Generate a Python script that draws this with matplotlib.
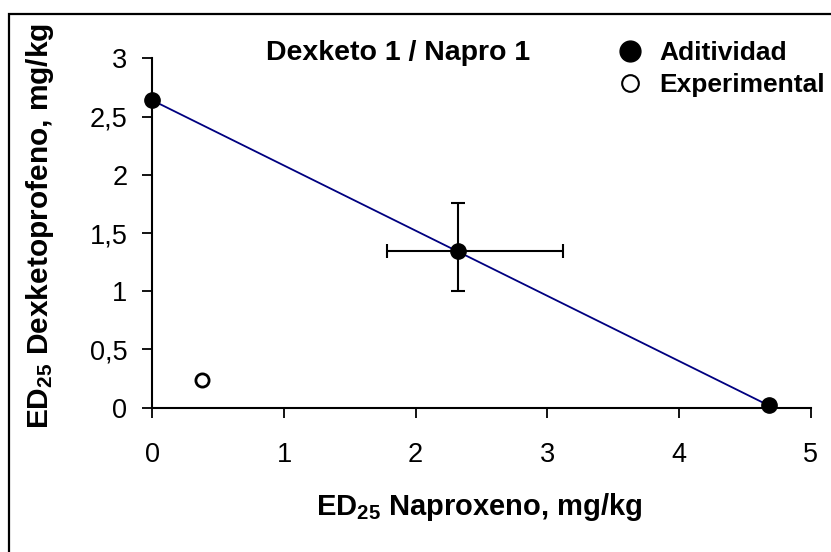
import matplotlib
matplotlib.use("Agg")
import matplotlib.pyplot as plt
from matplotlib.lines import Line2D
from matplotlib.patches import Rectangle

# datos
adit_x = [0.0, 2.32, 4.68]
adit_y = [2.64, 1.345, 0.02]
err_x = [1.78, 3.12]
err_y = [1.00, 1.755]
exp_x = [0.38]
exp_y = [0.238]

xticks = [0, 1, 2, 3, 4, 5]
yticks = [0, 0.5, 1, 1.5, 2, 2.5, 3]
ytick_labels = ['0', '0,5', '1', '1,5', '2', '2,5', '3']

plt.rcParams['font.family'] = ['Liberation Sans', 'DejaVu Sans']
plt.rcParams['mathtext.fontset'] = 'custom'
plt.rcParams['mathtext.bf'] = 'Liberation Sans:bold'
plt.rcParams['mathtext.rm'] = 'Liberation Sans'

fig = plt.figure(figsize=(8.31, 5.52), dpi=100)
ax = fig.add_axes([0.1833, 0.2614, 0.9756 - 0.1833, 0.8942 - 0.2614])

# marco exterior (recortado a la derecha y abajo)
fig.patches.append(Rectangle((9 / 831, -0.1), 1.2, 1 - 14 / 552 + 0.1,
                             transform=fig.transFigure, fill=False,
                             edgecolor='black', lw=1.6))

# linea de aditividad
ax.plot([adit_x[0], adit_x[2]], [adit_y[0], adit_y[2]], color='#000080', lw=1.3, zorder=2)

# barras de error del punto central
xe = [[adit_x[1] - err_x[0]], [err_x[1] - adit_x[1]]]
ye = [[adit_y[1] - err_y[0]], [err_y[1] - adit_y[1]]]
ax.errorbar([adit_x[1]], [adit_y[1]], xerr=xe, yerr=ye, fmt='none',
            ecolor='black', elinewidth=1.5, capsize=4.7, capthick=1.5, zorder=3)

ax.plot(adit_x, adit_y, 'o', color='black', ms=11, zorder=4, clip_on=False)
ax.plot(exp_x, exp_y, 'o', mfc='white', mec='black', mew=2, ms=9.5, zorder=4)

ax.set_xlim(0, 5)
ax.set_ylim(0, 3)
ax.set_xticks(xticks)
ax.set_xticklabels([str(t) for t in xticks])
ax.set_yticks(yticks)
ax.set_yticklabels(ytick_labels)
ax.tick_params(direction='out', length=7, width=1.3, labelsize=19.5)
ax.tick_params(axis='x', pad=18)
ax.tick_params(axis='y', pad=11)
for s in ['top', 'right']:
    ax.spines[s].set_visible(False)
for s in ['left', 'bottom']:
    ax.spines[s].set_linewidth(1.5)

ax.set_xlabel(r'$\mathbf{ED_{25}}$ Naproxeno, mg/kg', fontsize=21, fontweight='bold')
ax.set_ylabel(r'$\mathbf{ED_{25}}$ Dexketoprofeno, mg/kg', fontsize=21.5, fontweight='bold')
ax.xaxis.set_label_coords(0.496, -0.284)
ax.xaxis.label.set_va('center')
ax.yaxis.set_label_coords(-0.1706, 0.52)
ax.yaxis.label.set_va('center')

fig.text(398 / 831, 1 - 53 / 552, 'Dexketo 1 / Napro 1', fontsize=20.5, fontweight='bold',
         ha='center', va='center')

handles = [Line2D([], [], ls='none', marker='o', color='black', ms=15),
           Line2D([], [], ls='none', marker='o', mfc='white', mec='black', mew=1.5, ms=12)]
leg = ax.legend(handles, ['Aditividad', 'Experimental'], loc='upper left',
                bbox_to_anchor=(604 / 831, 1 - 28 / 552), bbox_transform=fig.transFigure,
                frameon=False, prop={'weight': 'bold', 'size': 19},
                handletextpad=0.6, labelspacing=0.3, borderpad=0, handlelength=1.0)

fig.savefig('out.png', dpi=100)
